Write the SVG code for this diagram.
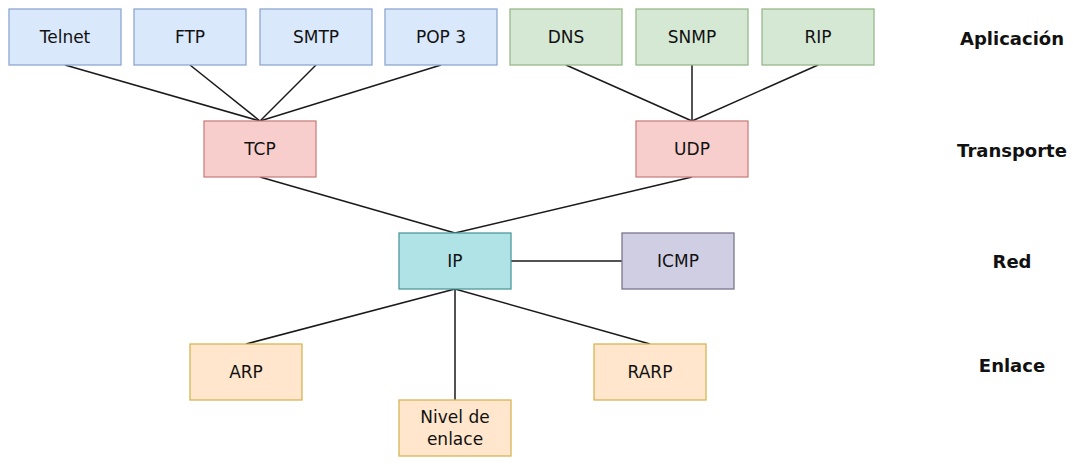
<svg xmlns="http://www.w3.org/2000/svg" width="1073" height="472" viewBox="0 0 1073 472">
<style>
.n{stroke-width:1.3}
.blue{fill:#dae8fc;stroke:#8fa6cf}
.green{fill:#d5e8d4;stroke:#97b98a}
.red{fill:#f8cecc;stroke:#c98280}
.teal{fill:#b0e3e6;stroke:#4f9a9c}
.purple{fill:#d0cee2;stroke:#7a7690}
.orange{fill:#ffe6cc;stroke:#d6b656}
.t{font-family:"DejaVu Sans","Liberation Sans",sans-serif;font-size:17px;fill:#111;text-anchor:middle}
.lbl{font-family:"DejaVu Sans","Liberation Sans",sans-serif;font-size:18px;font-weight:bold;fill:#111;text-anchor:middle}
.c{stroke:#1a1a1a;stroke-width:1.5;fill:none}
</style>
<rect width="1073" height="472" fill="#ffffff"/>
<g id="connectors">
<line class="c" x1="65" y1="65" x2="260" y2="121"/>
<line class="c" x1="190" y1="65" x2="260" y2="121"/>
<line class="c" x1="316" y1="65" x2="260" y2="121"/>
<line class="c" x1="441" y1="65" x2="260" y2="121"/>
<line class="c" x1="566" y1="65" x2="692" y2="121"/>
<line class="c" x1="692" y1="65" x2="692" y2="121"/>
<line class="c" x1="818" y1="65" x2="692" y2="121"/>
<line class="c" x1="260" y1="177" x2="455" y2="233"/>
<line class="c" x1="692" y1="177" x2="455" y2="233"/>
<line class="c" x1="511" y1="261" x2="622" y2="261"/>
<line class="c" x1="455" y1="289" x2="246" y2="344"/>
<line class="c" x1="455" y1="289" x2="455" y2="400"/>
<line class="c" x1="455" y1="289" x2="650" y2="344"/>
</g>
<g id="telnet"><rect class="n blue" x="9" y="9" width="112" height="56"/><text class="t" x="65" y="43">Telnet</text></g>
<g id="ftp"><rect class="n blue" x="134" y="9" width="112" height="56"/><text class="t" x="190" y="43">FTP</text></g>
<g id="smtp"><rect class="n blue" x="260" y="9" width="112" height="56"/><text class="t" x="316" y="43">SMTP</text></g>
<g id="pop3"><rect class="n blue" x="385" y="9" width="112" height="56"/><text class="t" x="441" y="43">POP 3</text></g>
<g id="dns"><rect class="n green" x="510" y="9" width="112" height="56"/><text class="t" x="566" y="43">DNS</text></g>
<g id="snmp"><rect class="n green" x="636" y="9" width="112" height="56"/><text class="t" x="692" y="43">SNMP</text></g>
<g id="rip"><rect class="n green" x="762" y="9" width="112" height="56"/><text class="t" x="818" y="43">RIP</text></g>
<g id="tcp"><rect class="n red" x="204" y="121" width="112" height="56"/><text class="t" x="260" y="155">TCP</text></g>
<g id="udp"><rect class="n red" x="636" y="121" width="112" height="56"/><text class="t" x="692" y="155">UDP</text></g>
<g id="ip"><rect class="n teal" x="399" y="233" width="112" height="56"/><text class="t" x="455" y="267">IP</text></g>
<g id="icmp"><rect class="n purple" x="622" y="233" width="112" height="56"/><text class="t" x="678" y="267">ICMP</text></g>
<g id="arp"><rect class="n orange" x="190" y="344" width="112" height="56"/><text class="t" x="246" y="378">ARP</text></g>
<g id="rarp"><rect class="n orange" x="594" y="344" width="112" height="56"/><text class="t" x="650" y="378">RARP</text></g>
<g id="nivel"><rect class="n orange" x="399" y="400" width="112" height="56"/><text class="t" x="455" y="423">Nivel de</text><text class="t" x="455" y="445">enlace</text></g>
<g id="layer-labels">
<text class="lbl" x="1012" y="45">Aplicación</text>
<text class="lbl" x="1012" y="157">Transporte</text>
<text class="lbl" x="1012" y="268">Red</text>
<text class="lbl" x="1012" y="372">Enlace</text>
</g>
</svg>
